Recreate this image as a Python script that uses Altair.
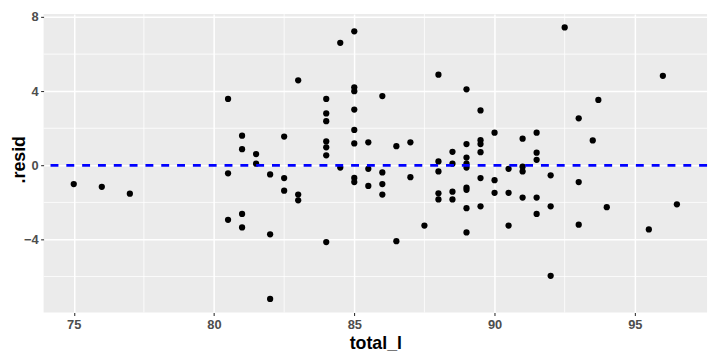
import altair as alt
import pandas as pd

total_l = [75, 76, 77,
           80.5, 80.5, 80.5,
           81, 81, 81, 81,
           81.5, 81.5,
           82, 82, 82,
           82.5, 82.5, 82.5,
           83, 83, 83,
           84, 84, 84, 84, 84, 84, 84,
           84.5, 84.5,
           85, 85, 85, 85, 85, 85, 85, 85,
           85.5, 85.5, 85.5,
           86, 86, 86, 86,
           86.5, 86.5,
           87, 87,
           87.5,
           88, 88, 88, 88, 88,
           88.5, 88.5, 88.5, 88.5,
           89, 89, 89, 89, 89, 89, 89, 89, 89,
           89.5, 89.5, 89.5, 89.5, 89.5, 89.5,
           90, 90, 90,
           90.5, 90.5, 90.5,
           91, 91, 91, 91,
           91.5, 91.5, 91.5, 91.5, 91.5,
           92, 92, 92,
           92.5,
           93, 93, 93,
           93.5, 93.7,
           94,
           95.5, 96, 96.5]

resid = [-1.01, -1.16, -1.53,
         3.58, -0.43, -2.94,
         1.60, 0.87, -2.62, -3.35,
         0.61, 0.09,
         -0.49, -3.72, -7.21,
         1.55, -0.69, -1.37,
         4.59, -1.58, -1.89,
         3.58, 2.80, 2.38, 1.29, 0.97, 0.54, -4.14,
         6.61, -0.12,
         7.23, 4.21, 4.00, 3.01, 1.91, 1.18, -0.68, -0.90,
         1.24, -0.19, -1.11,
         3.74, -0.38, -1.01, -1.58,
         1.03, -4.09,
         1.24, -0.64,
         -3.25,
         4.89, 0.21, -0.33, -1.51, -1.84,
         0.73, 0.09, -1.42, -1.84,
         4.10, 1.15, 0.42, 0.09, -0.12, -1.20, -1.32, -2.31, -3.62,
         2.96, 1.36, 1.15, 0.71, -0.69, -2.21,
         1.76, -0.80, -1.48,
         -0.19, -1.48, -3.25,
         1.44, -0.07, -0.33, -1.74,
         1.76, 0.68, 0.30, -1.74, -2.62,
         -0.54, -2.21, -5.96,
         7.44,
         2.54, -0.90, -3.20,
         1.34, 3.53,
         -2.26,
         -3.46, 4.83, -2.10]

x_major = [75, 80, 85, 90, 95]
x_minor = [77.5, 82.5, 87.5, 92.5]
y_major = [-4, 0, 4, 8]
y_minor = [-6, -2, 2, 6]
hline_y = [0]

df = pd.DataFrame({"total_l": total_l, "resid": resid})

xscale = alt.Scale(domain=[73.925, 97.575], nice=False, zero=False)
yscale = alt.Scale(domain=[-7.94, 8.17], nice=False, zero=False)

x_axis = alt.Axis(values=x_major, title="total_l", labelPadding=3, titlePadding=3)
y_axis = alt.Axis(values=y_major, title=".resid", labelPadding=2.5,
                  titleBaseline="alphabetic", titleX=-19.5, titleY=147)

vminor = alt.Chart(pd.DataFrame({"x": x_minor})).mark_rule(
    color="white", strokeWidth=0.8
).encode(x=alt.X("x:Q", scale=xscale, axis=x_axis, title="total_l"))

hminor = alt.Chart(pd.DataFrame({"y": y_minor})).mark_rule(
    color="white", strokeWidth=0.8
).encode(y=alt.Y("y:Q", scale=yscale, axis=y_axis, title=".resid"))

points = alt.Chart(df).mark_circle(size=40, color="black", opacity=1).encode(
    x=alt.X("total_l:Q", scale=xscale, axis=x_axis, title="total_l"),
    y=alt.Y("resid:Q", scale=yscale, axis=y_axis, title=".resid"),
)

hline = alt.Chart(pd.DataFrame({"y": hline_y})).mark_rule(
    color="#0000FF", strokeWidth=2.7, strokeDash=[8, 8]
).encode(y=alt.Y("y:Q", scale=yscale, axis=y_axis, title=".resid"))

chart = alt.layer(vminor, hminor, points, hline).properties(
    width=671, height=302,
    autosize=alt.AutoSizeParams(type="none"),
    padding={"left": 36, "top": 4, "right": 5, "bottom": 40},
).configure_view(
    fill="#EBEBEB", stroke=None
).configure_axis(
    grid=True, gridColor="white", gridWidth=1.5,
    domain=False, tickColor="#333333", tickSize=3, tickWidth=1.1,
    labelColor="#4D4D4D", labelFont="Liberation Sans", labelFontWeight="bold",
    labelFontSize=13,
    titleFont="Liberation Sans", titleFontSize=18, titleFontWeight="bold",
    titleColor="black",
)

chart.save("out.html", embed_options={"renderer": "svg", "actions": False})
